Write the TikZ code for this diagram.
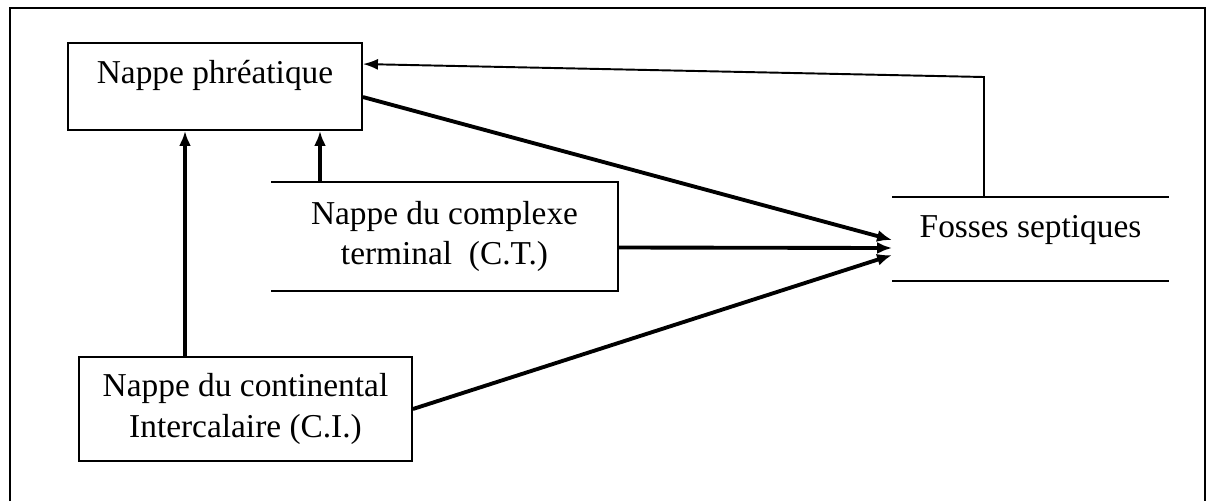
\documentclass[tikz,border=0pt]{standalone}
\usepackage{fontspec}
\setmainfont{Liberation Serif}
\usetikzlibrary{arrows.meta, calc}

\begin{document}
\begin{tikzpicture}[x=0.02cm, y=-0.02cm, >=Latex,
    box/.style={rectangle, draw, line width=1.1pt, inner sep=0pt, align=center, font=\fontsize{19}{23}\selectfont},
    flow/.style={->, line width=2.2pt, >={Latex[length=0.3cm, width=0.24cm]}},
    back/.style={->, line width=1.1pt, >={Latex[length=0.3cm, width=0.22cm]}}]

    \useasboundingbox (0,0) rectangle (1209,501);
    \draw[line width=1.4pt] (10,501) -- (10,8) -- (1205,8) -- (1205,501);

    \node (phre) [box, minimum width=5.88cm, minimum height=1.74cm, text height=0.8cm, text depth=0.94cm] at (215,86.5) {Nappe phréatique};
    \node (ct) [box, draw=none, minimum width=6.9cm, minimum height=2.14cm] at (444.5,236.5) {Nappe du complexe\\terminal~ (C.T.)};
    \node (fos) [box, draw=none, minimum width=5.5cm, minimum height=1.64cm, text height=0.78cm, text depth=0.86cm] at (1030.5,239) {Fosses septiques};
    \node (ci) [box, minimum width=6.66cm, minimum height=2.08cm] at (245.5,409) {Nappe du continental\\Intercalaire (C.I.)};

    % open sides
    \draw[line width=1.1pt] (ct.north west) -- (ct.north east) -- (ct.south east) -- (ct.south west);
    \draw[line width=1.1pt] (fos.north west) -- (fos.north east) (fos.south west) -- (fos.south east);

    \coordinate (xci) at (185,0);
    \coordinate (xct) at (320,0);
    \coordinate (fb) at (984,77);

    % Main flow
    \draw[flow] (ci.north -| xci) -- (phre.south -| xci);
    \draw[flow] (ct.north -| xct) -- (phre.south -| xct);
    \draw[flow] ($(phre.north east)+(0,55)$) -- ($(fos.west)+(0,1)$);
    \draw[flow] ($(ct.east)+(0,11)$) -- ($(fos.west)+(0,9)$);
    \draw[flow] (ci.east) -- ($(fos.west)+(0,16)$);

    % Return to the water table
    \draw[back] (fos.north -| fb) -- (fb) -- ($(phre.north east)+(0,22)$);

\end{tikzpicture}
\end{document}
